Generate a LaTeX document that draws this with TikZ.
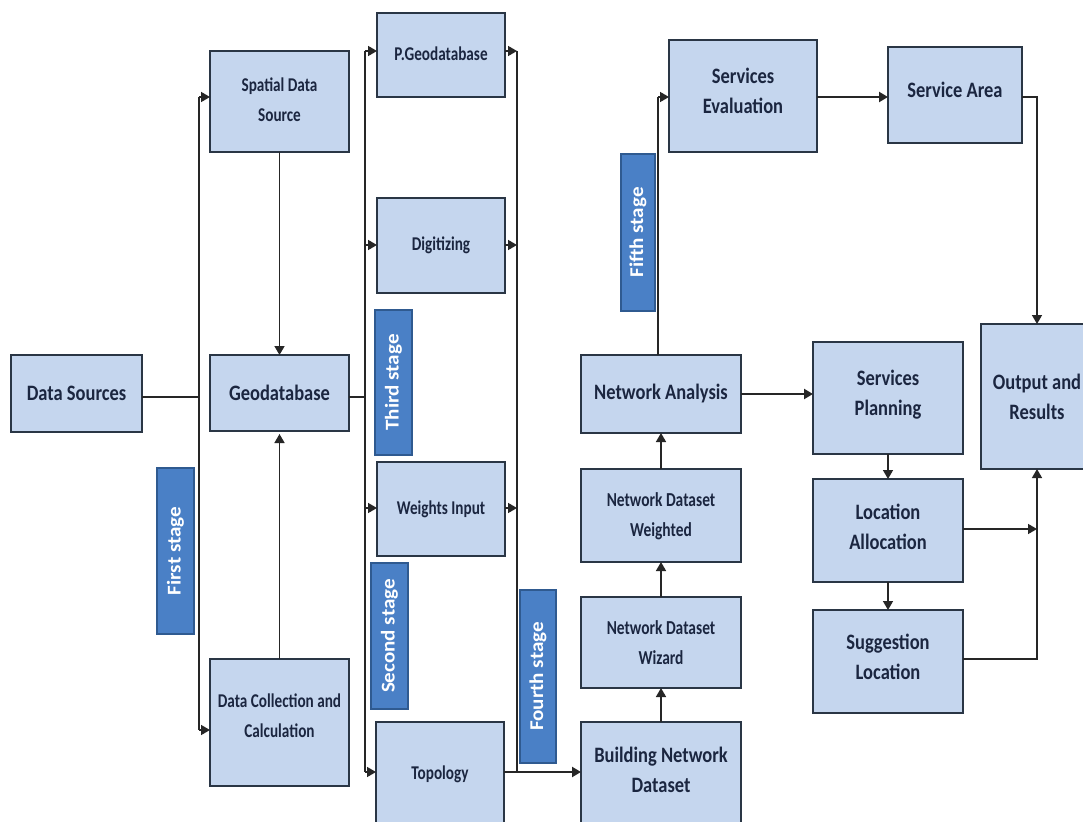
\documentclass[tikz,border=0pt]{standalone}
\usepackage{fontspec}
\setmainfont[FakeStretch=0.84]{Carlito}
\newfontfamily\smallfont[FakeStretch=0.78]{Carlito}
\newfontfamily\stagefont[FakeStretch=1.08]{Carlito}
\usetikzlibrary{arrows.meta}
\definecolor{boxfill}{HTML}{C5D6EE}
\definecolor{boxline}{HTML}{2A3645}
\definecolor{stagefill}{HTML}{4A80C6}
\definecolor{stageline}{HTML}{2F5A90}
\definecolor{txt}{HTML}{1B2640}
\definecolor{conn}{HTML}{262626}
\tikzset{
  box/.style={draw=boxline,fill=boxfill,line width=1.6pt,inner sep=0pt,outer sep=0pt,align=center,text=txt,font=\fontsize{#1}{30}\selectfont\bfseries},
  box/.default=22,
  sbox/.style={box,font=\smallfont\fontsize{#1}{30}\selectfont\bfseries},
  sbox/.default=19.5,
  stagebox/.style={draw=stageline,fill=stagefill,line width=1.6pt,inner sep=0pt,outer sep=0pt,text=white,font=\stagefont\fontsize{19.5}{20}\selectfont\bfseries,rotate=90,align=center},
  link/.style={draw=conn,line width=1.5pt},
  arrow/.style={link,-{Triangle[length=9pt,width=10pt]}},
  heavy/.style={line width=2.2pt}
}
\begin{document}
\begin{tikzpicture}[x=1pt,y=-1pt]
\useasboundingbox (0,0) rectangle (1083,821);
\fill[white] (0,0) rectangle (1083,821);
% bus coordinates
\coordinate (b1j) at (199,397);
\coordinate (b1t) at (199,97);
\coordinate (b1b) at (199,730);
\coordinate (b2j) at (365,397);
\coordinate (b2a) at (365,51);
\coordinate (b2b) at (365,245);
\coordinate (b2c) at (365,508);
\coordinate (b2d) at (365,772);
\coordinate (b3a) at (517,51);
\coordinate (b3b) at (517,245);
\coordinate (b3c) at (517,508);
\coordinate (b3d) at (517,772);
\coordinate (up) at (658,355);
\coordinate (upt) at (658,97);
\coordinate (o1) at (1037,97);
\coordinate (o3) at (1037,529);
\coordinate (o4) at (1037,659);
% boxes
\node[box] (ds) at (76.5,393.5) [minimum width=131pt,minimum height=77pt] {Data Sources};
\node[sbox] (sds) at (279.5,101.5) [minimum width=139pt,minimum height=101pt] {Spatial Data\\Source\\[-27pt]};
\node[box] (geo) at (279.5,393) [minimum width=139pt,minimum height=76pt] {Geodatabase};
\node[sbox] (dcc) at (279.5,722.5) [minimum width=139pt,minimum height=127pt] {Data Collection and\\Calculation\\[-17pt]};
\node[sbox] (pgeo) at (441,55) [minimum width=128pt,minimum height=84pt] {P.Geodatabase\\[-28pt]};
\node[sbox] (dig) at (441,245.5) [minimum width=128pt,minimum height=95pt] {Digitizing};
\node[sbox] (wgt) at (441,509) [minimum width=128pt,minimum height=94pt] {Weights Input\\[-28pt]};
\node[sbox] (top) at (440,775) [minimum width=128pt,minimum height=106pt] {Topology\\[-26pt]};
\node[box] (bnd) at (661,775) [minimum width=160pt,minimum height=106pt] {Building Network\\Dataset\\[-20pt]};
\node[sbox=19.8] (wiz) at (661,642.5) [minimum width=160pt,minimum height=91pt] {Network Dataset\\Wizard};
\node[sbox=19.8] (wtd) at (661,515.5) [minimum width=160pt,minimum height=93pt] {Network Dataset\\Weighted\\[-28pt]};
\node[box] (na) at (661,394) [minimum width=160pt,minimum height=78pt] {Network Analysis};
\node[box] (se) at (743,96) [minimum width=148pt,minimum height=112pt] {Services\\Evaluation\\[-19pt]};
\node[box] (sa) at (955,95) [minimum width=134pt,minimum height=96pt] {Service Area\\[-20pt]};
\node[box] (sp) at (888,398) [minimum width=150pt,minimum height=112pt] {Services\\Planning\\[-20pt]};
\node[box] (la) at (888,530.5) [minimum width=150pt,minimum height=103pt] {Location\\Allocation\\[-22pt]};
\node[box] (sl) at (888,661.5) [minimum width=150pt,minimum height=103pt] {Suggestion\\Location\\[-21pt]};
\node[box] (out) at (1037,396.5) [minimum width=112pt,minimum height=145pt] {Output and\\Results};
% stages
\node[stagebox] (s1) at (175.5,551) [minimum width=166pt,minimum height=37pt] {First stage};
\node[stagebox] (s2) at (389.5,636) [minimum width=146pt,minimum height=37pt] {Second stage};
\node[stagebox] (s3) at (393.5,382.5) [minimum width=145pt,minimum height=37pt] {Third stage};
\node[stagebox] (s4) at (538,676.5) [minimum width=173pt,minimum height=36pt] {Fourth stage};
\node[stagebox] (s5) at (638,232.5) [minimum width=157pt,minimum height=34pt] {Fifth stage};
% connectors
\draw[link] (ds.east |- b1j) -- (b1j);
\draw[link] (b1t) -- (b1b);
\draw[arrow] (b1t) -- (sds.west |- b1t);
\draw[arrow] (b1b) -- (dcc.west |- b1b);
\draw[arrow] (sds.south) -- (geo.north);
\draw[arrow,shorten >=3pt] (dcc.north) -- (geo.south);
\draw[link] (geo.east |- b2j) -- (b2j);
\draw[link] (b2a) -- (b2d);
\draw[arrow] (b2a) -- (pgeo.west |- b2a);
\draw[arrow] (b2b) -- (dig.west |- b2b);
\draw[arrow] (b2c) -- (wgt.west |- b2c);
\draw[arrow] (b2d) -- (top.west |- b2d);
\draw[link] (b3a) -- (b3d);
\draw[arrow] (pgeo.east |- b3a) -- (b3a);
\draw[arrow] (dig.east |- b3b) -- (b3b);
\draw[arrow] (wgt.east |- b3c) -- (b3c);
\draw[arrow,heavy] (top.east |- b3d) -- (bnd.west |- b3d);
\draw[arrow] (bnd.north) -- (wiz.south);
\draw[arrow] (wiz.north) -- (wtd.south);
\draw[arrow] (wtd.north) -- (na.south);
\draw[link] (up) -- (upt);
\draw[arrow] (upt) -- (se.west |- upt);
\draw[arrow,heavy] (se.east |- upt) -- (sa.west |- upt);
\draw[arrow] (sa.east |- o1) -- (o1) -- (out.north);
\draw[arrow,heavy] (na.east) -- (sp.west |- na.east);
\draw[arrow] (sp.south) -- (la.north);
\draw[arrow] (la.south) -- (sl.north);
\draw[arrow] (la.east |- o3) -- (o3);
\draw[arrow] (sl.east |- o4) -- (o4) -- (out.south);
\end{tikzpicture}
\end{document}
